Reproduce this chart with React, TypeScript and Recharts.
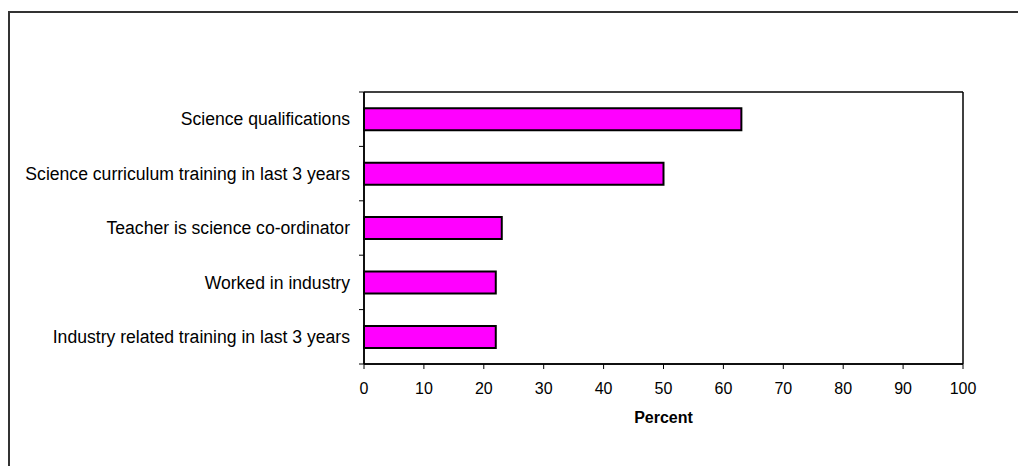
import React from 'react';
import { BarChart, Bar, XAxis, YAxis, CartesianGrid } from 'recharts';

const categories = [
  'Science qualifications',
  'Science curriculum training in last 3 years',
  'Teacher is science co-ordinator',
  'Worked in industry',
  'Industry related training in last 3 years',
];
const percents = [63, 50, 23, 22, 22];
const xTicks = [0, 10, 20, 30, 40, 50, 60, 70, 80, 90, 100];

const data = categories.map((name, i) => ({ name, percent: percents[i] }));

const FONT = '"Liberation Sans", Arial, Helvetica, sans-serif';
const TICK_SIZE = 5;
const TICK_MARGIN = 9;

// Excel-style category ticks: label in the middle, tick marks on band edges
const CategoryTick = (props: any) => {
  const { x, y, payload, index } = props;
  const half = payload && typeof payload.offset === 'number' ? payload.offset : 27.2;
  const axisX = x + TICK_SIZE + TICK_MARGIN;
  return (
    <g>
      <line x1={axisX - TICK_SIZE} x2={axisX} y1={y - half} y2={y - half} stroke="#000" strokeWidth={1} />
      {index === categories.length - 1 && (
        <line x1={axisX - TICK_SIZE} x2={axisX} y1={y + half} y2={y + half} stroke="#000" strokeWidth={1} />
      )}
      <text x={x} y={y} dy="0.355em" textAnchor="end" fontFamily={FONT} fontSize={17.6} fill="#000">
        {payload.value}
      </text>
    </g>
  );
};

const App = () => {
  return (
    <div style={{ position: 'relative', width: 1018, height: 458 }}>
      <div
        style={{
          position: 'absolute',
          left: 0,
          top: 3,
          right: 0,
          bottom: 0,
          borderLeft: '2px solid #333',
          borderTop: '2px solid #333',
        }}
      />
      <div style={{ position: 'absolute', left: 0, top: 0 }}>
        <BarChart
          width={1018}
          height={458}
          data={data}
          layout="vertical"
          margin={{ top: 84, right: 63, left: 0, bottom: 42 }}
          barCategoryGap="30%"
        >
          {/* plot frame */}
          <CartesianGrid
            stroke="#000"
            strokeWidth={1.5}
            horizontalCoordinatesGenerator={({ offset }: any) => [offset.top, offset.top + offset.height]}
            verticalCoordinatesGenerator={({ offset }: any) => [offset.left, offset.left + offset.width]}
          />
          <XAxis
            type="number"
            domain={[0, 100]}
            ticks={xTicks}
            interval={0}
            height={60}
            tickSize={TICK_SIZE}
            tickMargin={14}
            axisLine={{ stroke: '#000', strokeWidth: 1.5 }}
            tickLine={{ stroke: '#000' }}
            tick={{ fill: '#000', fontSize: 16, fontFamily: FONT }}
            label={{
              value: 'Percent',
              position: 'insideBottom',
              offset: 1,
              fill: '#000',
              fontSize: 16,
              fontWeight: 'bold',
              fontFamily: FONT,
            }}
          />
          <YAxis
            type="category"
            dataKey="name"
            width={356}
            interval={0}
            tickSize={TICK_SIZE}
            tickMargin={TICK_MARGIN}
            tickLine={false}
            axisLine={{ stroke: '#000', strokeWidth: 1.5 }}
            tick={<CategoryTick />}
          />
          <Bar dataKey="percent" fill="#FF00FF" stroke="#000" strokeWidth={2} isAnimationActive={false} />
        </BarChart>
      </div>
    </div>
  );
};

export default App;
